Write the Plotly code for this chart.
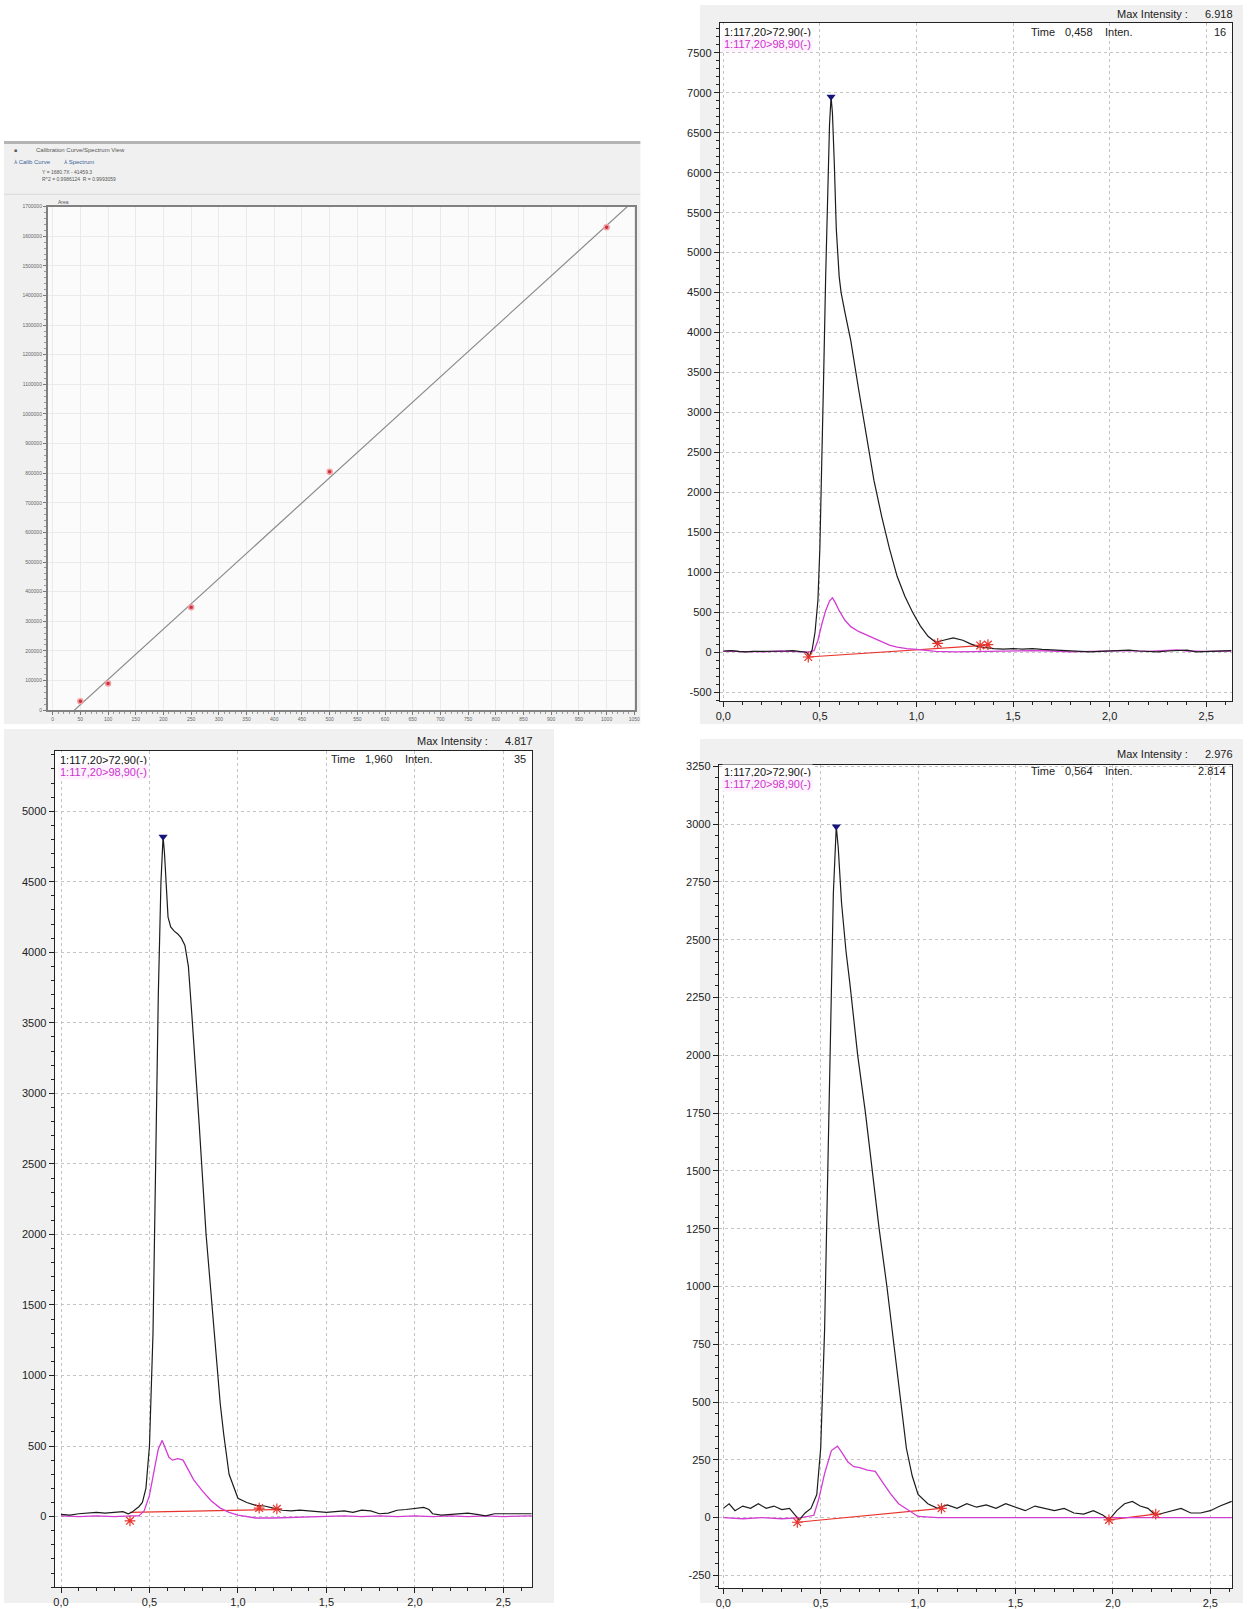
import numpy as np
import plotly.graph_objects as go

W, H = 1248, 1609
FONT = "Liberation Sans Narrow, Arial Narrow, Liberation Sans, Arial, sans-serif"

# ---------------- data ----------------
cal_conc = [50, 100, 250, 500, 1000]
cal_area = [30000, 90000, 347000, 805000, 1630000]
cal_xticks = list(range(0, 1051, 50))
cal_yticks = list(range(0, 1700001, 100000))

time_ticks = [0.0, 0.5, 1.0, 1.5, 2.0, 2.5]
time_ticktext = ["0,0", "0,5", "1,0", "1,5", "2,0", "2,5"]

# top-right chromatogram
tr_x_black = [0.00,0.04,0.08,0.12,0.16,0.20,0.24,0.28,0.32,0.36,
              0.40,0.43,0.445,0.46,0.475,0.49,0.50,0.51,0.52,0.53,
              0.54,0.55,0.558,0.565,0.575,0.585,0.60,0.61,0.63,0.66,
              0.70,0.74,0.78,0.82,0.86,0.90,0.94,0.98,1.02,1.06,
              1.10,1.14,1.19,1.24,1.28,1.32,1.36,1.40,1.45,1.50,
              1.55,1.60,1.65,1.70,1.75,1.80,1.85,1.90,1.95,2.00,
              2.05,2.10,2.15,2.20,2.25,2.30,2.35,2.40,2.45,2.50,
              2.55,2.60,2.63]
tr_y_black = [15,20,10,5,10,10,15,10,15,20,
              10,0,-50,30,250,650,1300,2300,3500,4700,
              5800,6600,6950,6750,6100,5300,4700,4500,4250,3900,
              3300,2700,2150,1700,1300,950,700,500,330,200,
              125,150,180,150,104,70,55,45,40,45,
              40,45,35,30,25,20,10,5,10,15,
              20,25,15,10,5,15,20,25,5,10,
              15,15,20]
tr_x_mag = [0.00,0.05,0.10,0.15,0.20,0.25,0.30,0.35,0.40,0.44,
            0.47,0.49,0.51,0.53,0.55,0.565,0.58,0.60,0.63,0.66,
            0.70,0.74,0.78,0.82,0.86,0.90,0.95,1.00,1.05,1.10,
            1.20,1.30,1.40,1.50,1.60,1.70,1.80,1.90,2.00,2.10,
            2.20,2.30,2.35,2.40,2.50,2.63]
tr_y_mag = [10,15,5,10,5,10,15,10,5,0,
            20,150,350,520,640,680,620,520,400,320,
            260,220,180,130,90,65,45,35,20,10,
            5,10,10,15,20,15,5,10,15,20,
            10,20,28,15,10,15]
tr_star_x = [0.44, 1.11, 1.33, 1.37]
tr_star_y = [-60, 110, 85, 95]
tr_base_x = [0.44, 1.35]
tr_base_y = [-60, 85]
tr_peak = (0.558, 6950)

# bottom-left chromatogram
bl_x_black = [0.00,0.05,0.10,0.15,0.20,0.25,0.30,0.35,0.38,0.40,
              0.42,0.44,0.46,0.48,0.50,0.52,0.535,0.55,0.565,0.577,
              0.585,0.595,0.605,0.62,0.64,0.66,0.68,0.70,0.72,0.74,
              0.76,0.78,0.80,0.82,0.84,0.86,0.88,0.90,0.92,0.95,
              1.00,1.05,1.10,1.15,1.20,1.25,1.30,1.35,1.40,1.45,
              1.50,1.55,1.60,1.65,1.70,1.75,1.80,1.85,1.90,1.95,
              2.00,2.05,2.08,2.10,2.15,2.20,2.25,2.30,2.35,2.40,
              2.45,2.50,2.55,2.60,2.66]
bl_y_black = [15,10,20,25,30,25,30,35,20,30,
              50,70,100,200,500,1300,2500,3700,4500,4820,
              4700,4450,4250,4180,4150,4130,4100,4050,3900,3550,
              3200,2800,2400,2000,1700,1400,1100,800,580,300,
              130,100,80,75,60,45,40,45,40,35,
              30,35,40,30,45,40,20,25,45,50,
              60,65,50,20,10,15,20,25,15,5,
              20,20,15,20,20]
bl_x_mag = [0.00,0.10,0.20,0.30,0.40,0.44,0.47,0.50,0.53,0.55,
            0.572,0.59,0.61,0.63,0.66,0.69,0.72,0.75,0.80,0.85,
            0.90,0.95,1.00,1.05,1.10,1.20,1.30,1.40,1.50,1.60,
            1.70,1.80,1.90,2.00,2.10,2.20,2.30,2.40,2.50,2.66]
bl_y_mag = [5,0,5,0,5,5,40,150,350,480,
            540,480,420,400,410,400,330,260,180,110,
            60,30,10,0,-10,-10,-5,0,0,5,
            0,5,0,5,0,5,0,5,0,5]
bl_star_x = [0.39, 1.12, 1.22]
bl_star_y = [-30, 60, 55]
bl_base_x = [0.39, 1.22]
bl_base_y = [30, 50]
bl_peak = (0.577, 4820)

# bottom-right chromatogram
br_x_black = [0.00,0.03,0.06,0.10,0.14,0.18,0.22,0.26,0.30,0.34,
              0.37,0.39,0.42,0.45,0.48,0.50,0.52,0.544,0.565,0.58,
              0.59,0.607,0.63,0.65,0.69,0.73,0.765,0.80,0.84,0.875,
              0.91,0.94,0.97,1.00,1.05,1.10,1.15,1.20,1.25,1.30,
              1.35,1.40,1.45,1.50,1.55,1.60,1.65,1.70,1.75,1.80,
              1.85,1.90,1.95,1.98,2.02,2.06,2.10,2.14,2.18,2.22,
              2.26,2.30,2.35,2.40,2.45,2.50,2.55,2.61]
br_y_black = [40,60,30,50,40,60,40,50,35,40,
              10,-10,20,40,100,300,810,1910,2700,2990,
              2900,2660,2450,2310,2000,1750,1500,1250,1000,750,
              500,300,180,100,60,40,55,40,60,45,
              55,40,60,45,30,50,40,30,40,20,
              15,30,10,-10,30,60,70,50,40,10,
              20,30,40,20,20,30,50,70]
br_x_mag = [0.00,0.10,0.20,0.30,0.40,0.465,0.49,0.52,0.555,0.586,
            0.61,0.64,0.67,0.70,0.74,0.78,0.82,0.857,0.90,0.96,
            1.00,1.10,1.30,1.60,2.00,2.30,2.61]
br_y_mag = [0,-5,0,-5,0,10,80,190,290,309,
            280,240,220,216,205,200,150,105,60,26,
            5,0,0,0,0,0,0]
br_star_x = [0.38, 1.12, 1.98, 2.22]
br_star_y = [-20, 40, -10, 15]
br_base_segments = [([0.38, 1.12], [-20, 40]), ([1.98, 2.22], [-10, 15])]
br_peak = (0.58, 2990)

# ---------------- helpers ----------------
def xd(a, b):
    return [a / W, b / W]

def yd(top, bottom):
    return [1 - bottom / H, 1 - top / H]

def px(x):
    return x / W

def py(y):
    return 1 - y / H

BLACK = "#1c1c1c"
MAG = "#d23cd2"
RED = "#e8342c"

fig = go.Figure()

# calibration
coef = np.polyfit(cal_conc, cal_area, 1)
line_x = np.array([30, 1052])
fig.add_trace(go.Scatter(x=line_x, y=np.polyval(coef, line_x), mode="lines",
                         line=dict(color="#8a8a8a", width=1.2), xaxis="x", yaxis="y",
                         showlegend=False, cliponaxis=True))
fig.add_trace(go.Scatter(x=cal_conc, y=cal_area, mode="markers",
                         marker=dict(color="#c8323a", size=5, line=dict(color="#f4a0a8", width=1.5)),
                         xaxis="x", yaxis="y", showlegend=False))

def add_chrom(ax, xb, yb, xm, ym, sx, sy, bases, peak):
    xa, ya = "x" + ax, "y" + ax
    for bx, by in bases:
        fig.add_trace(go.Scatter(x=bx, y=by, mode="lines", line=dict(color=RED, width=1.2),
                                 xaxis=xa, yaxis=ya, showlegend=False))
    fig.add_trace(go.Scatter(x=xm, y=ym, mode="lines", line=dict(color=MAG, width=1.3),
                             xaxis=xa, yaxis=ya, showlegend=False))
    fig.add_trace(go.Scatter(x=xb, y=yb, mode="lines", line=dict(color=BLACK, width=1.2),
                             xaxis=xa, yaxis=ya, showlegend=False))
    fig.add_trace(go.Scatter(x=sx, y=sy, mode="markers",
                             marker=dict(symbol="asterisk-open", size=9, color=RED,
                                         line=dict(color=RED, width=1.2)),
                             xaxis=xa, yaxis=ya, showlegend=False))
    fig.add_trace(go.Scatter(x=[peak[0]], y=[peak[1]], mode="markers",
                             marker=dict(symbol="triangle-down", size=8, color="#16167a"),
                             xaxis=xa, yaxis=ya, showlegend=False, cliponaxis=False))

add_chrom("2", tr_x_black, tr_y_black, tr_x_mag, tr_y_mag, tr_star_x, tr_star_y,
          [(tr_base_x, tr_base_y)], tr_peak)
add_chrom("3", bl_x_black, bl_y_black, bl_x_mag, bl_y_mag, bl_star_x, bl_star_y,
          [(bl_base_x, bl_base_y)], bl_peak)
add_chrom("4", br_x_black, br_y_black, br_x_mag, br_y_mag, br_star_x, br_star_y,
          br_base_segments, br_peak)

# ---------------- axes ----------------
def chrom_x(dom, rng, anchor):
    return dict(domain=dom, range=rng, anchor=anchor, tickmode="array",
                tickvals=time_ticks, ticktext=time_ticktext, ticks="outside", ticklen=5,
                tickcolor="#222", showline=True, linecolor="#222", linewidth=1, mirror=True,
                showgrid=True, gridcolor="#c4c4c4", griddash="dot", gridwidth=1,
                zeroline=False, tickfont=dict(family=FONT, size=11, color="#222"),
                minor=dict(tick0=0, dtick=0.1, ticks="outside", ticklen=3, tickcolor="#222", showgrid=False))

def chrom_y(dom, rng, anchor, vals, minor_dt):
    return dict(domain=dom, range=rng, anchor=anchor, tickmode="array",
                tickvals=vals, ticktext=[str(v) for v in vals], ticks="outside", ticklen=5,
                tickcolor="#222", showline=True, linecolor="#222", linewidth=1, mirror=True,
                showgrid=True, gridcolor="#c4c4c4", griddash="dot", gridwidth=1,
                zeroline=False, tickfont=dict(family=FONT, size=11, color="#222"),
                minor=dict(tick0=0, dtick=minor_dt, ticks="outside", ticklen=3, tickcolor="#222", showgrid=False))

tr_yticks = list(range(-500, 7501, 500))
bl_yticks = list(range(0, 5001, 500))
br_yticks = list(range(-250, 3251, 250))

layout = dict(
    width=W, height=H, margin=dict(l=0, r=0, t=0, b=0),
    paper_bgcolor="white", plot_bgcolor="rgba(0,0,0,0)", showlegend=False,
    font=dict(family=FONT),
    xaxis=dict(domain=xd(44, 636), range=[-9, 1052], anchor="y", tickmode="array",
               tickvals=cal_xticks, ticktext=[str(v) for v in cal_xticks],
               ticks="outside", ticklen=3, tickcolor="#777", showline=True, linecolor="#808080",
               linewidth=1.5, mirror=True, showgrid=True, gridcolor="#eaeaea", zeroline=False,
               tickfont=dict(family=FONT, size=5, color="#666"),
               minor=dict(dtick=10, tick0=0, ticks="outside", ticklen=2, tickcolor="#999", showgrid=False)),
    yaxis=dict(domain=yd(203, 710), range=[0, 1700000], anchor="x", tickmode="array",
               tickvals=cal_yticks, ticktext=[str(v) for v in cal_yticks],
               ticks="outside", ticklen=3, tickcolor="#777", showline=True, linecolor="#808080",
               linewidth=1.5, mirror=True, showgrid=True, gridcolor="#eaeaea", zeroline=False,
               tickfont=dict(family=FONT, size=5, color="#666"),
               minor=dict(dtick=20000, tick0=0, ticks="outside", ticklen=2, tickcolor="#999", showgrid=False)),
    xaxis2=chrom_x(xd(721, 1237), [-0.018, 2.634], "y2"),
    yaxis2=chrom_y(yd(18, 701), [-613, 7875], "x2", tr_yticks, 100),
    xaxis3=chrom_x(xd(51, 532), [-0.036, 2.663], "y3"),
    yaxis3=chrom_y(yd(751, 1593), [-500, 5428], "x3", bl_yticks, 100),
    xaxis4=chrom_x(xd(720, 1237), [-0.023, 2.612], "y4"),
    yaxis4=chrom_y(yd(765, 1594), [-305, 3257], "x4", br_yticks, 50),
)
fig.update_layout(**layout)

# ---------------- background panels ----------------
def rect(x0, y0, x1, y1, fill, line=None):
    return dict(type="rect", xref="paper", yref="paper", x0=px(x0), x1=px(x1), y0=py(y1), y1=py(y0),
                fillcolor=fill, line=dict(width=0) if line is None else line, layer="below")

shapes = [
    rect(0, 139, 641, 724, "#f0f0f0"),
    rect(0, 137, 641, 140, "#b4b4b4"),
    rect(0, 190, 641, 191, "#d8d8d8"),
    rect(701, 0, 1248, 724, "#f0f0f0"),
    rect(0, 729, 554, 1609, "#f0f0f0"),
    rect(701, 739, 1248, 1609, "#f0f0f0"),
    rect(44, 203, 636, 710, "#fbfbfb"),
    rect(721, 18, 1237, 701, "white"),
    rect(51, 751, 532, 1593, "white"),
    rect(720, 765, 1237, 1594, "white"),
]
fig.update_layout(shapes=shapes)

# ---------------- texts ----------------
ann = []
def txt(x, y, s, size=11, color="#222", anchor="left", bg=None):
    d = dict(x=px(x), y=py(y), xref="paper", yref="paper", text=s, showarrow=False,
             xanchor=anchor, yanchor="middle", font=dict(family=FONT, size=size, color=color))
    if bg:
        d["bgcolor"] = bg
        d["borderpad"] = 1
    ann.append(d)

# calibration header
txt(8, 146, "■", 5, "#555")
txt(30, 146, "Calibration Curve/Spectrum View", 6, "#555")
txt(8, 158, "⅄ Calib Curve", 6, "#3a5f9a")
txt(58, 158, "⅄ Spectrum", 6, "#3a5f9a")
txt(36, 168, "Y = 1680.7X - 41459.3", 5, "#555")
txt(36, 175, "R^2 = 0.9986124  R = 0.9993059", 5, "#555")
txt(52, 198, "Area", 5, "#555")

panels = [
    (723, 27, 39, 9, 1237, "6.918", 27, "0,458", "16"),
    (54, 760, 772, 741, 532, "4.817", 759, "1,960", "35"),
    (723, 772, 784, 754, 1237, "2.976", 771, "0,564", "2.814"),
]
for lx, ly1, ly2, my, mr, mval, iy, tval, ival in panels:
    txt(lx, ly1, "1:117,20>72,90(-)", 11, "#111", bg="white")
    txt(lx, ly2, "1:117,20>98,90(-)", 11, "#cc33cc", bg="#fdf2fd")
    txt(mr - 42, my, "Max Intensity :", 11, "#222", anchor="right")
    txt(mr + 3, my, mval, 11, "#222", anchor="right")
    txt(mr - 205, iy, "Time", 11, "#222")
    txt(mr - 170, iy, tval, 11, "#222")
    txt(mr - 130, iy, "Inten.", 11, "#222")
    txt(mr - 4, iy, ival, 11, "#222", anchor="right")

fig.update_layout(annotations=ann)

fig.write_html("out.html", config={"displayModeBar": False},
               post_script="document.body.style.margin='0px';document.body.style.padding='0px';")
